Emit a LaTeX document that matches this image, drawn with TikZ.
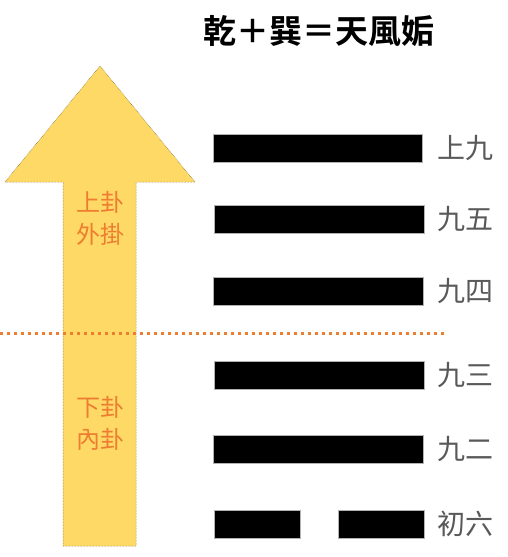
\documentclass[tikz,border=0pt]{standalone}
\usepackage{fontspec}
\newfontfamily\cjk{Noto Sans CJK TC}
\newfontfamily\cjkb{Noto Sans CJK TC Bold}
\definecolor{arrowfill}{HTML}{FFD966}
\definecolor{arrowline}{HTML}{6B5A20}
\definecolor{orangeT}{HTML}{ED7D31}
\definecolor{labelgray}{HTML}{595959}
\tikzset{
  yaobar/.style={fill=black, draw=gray!60, line width=0.4pt, inner sep=0pt, minimum height=28pt},
  yaolabel/.style={anchor=west, inner sep=0pt, text=labelgray, font=\cjk\fontsize{28}{30}\selectfont},
  sidelabel/.style={inner sep=0pt, text=orangeT, align=center, font=\cjk\fontsize{24}{32}\selectfont},
  divider/.style={orangeT, line width=3pt, dash pattern=on 3pt off 4pt}
}
\begin{document}
\begin{tikzpicture}[x=1pt,y=-1pt]
\useasboundingbox (0,0) rectangle (508,557);
% title
\node[inner sep=0pt, font=\cjkb\fontsize{33}{36}\selectfont] (title) at (319,31) {乾＋巽＝天風姤};
% arrow
\draw[fill=arrowfill, draw=arrowline, line width=0.5pt, densely dotted]
  (100,66) -- (195,182) -- (136,182) -- (136,546) -- (63,546) -- (63,182) -- (5,182) -- cycle;
\node[sidelabel] (upper) at (100,218) {上卦\\外掛};
\node[sidelabel] (lower) at (100,423) {下卦\\內卦};
% divider
\coordinate (dl) at (0,333);
\coordinate (dr) at (446,333);
\draw[divider] (dl) -- (dr);
% bars
\node[yaobar, minimum width=209pt, anchor=west] (b6) at (213,148) {};
\node[yaobar, minimum width=210pt, anchor=west] (b5) at (214,219) {};
\node[yaobar, minimum width=210pt, anchor=west] (b4) at (213,291) {};
\node[yaobar, minimum width=210pt, anchor=west] (b3) at (214,375) {};
\node[yaobar, minimum width=210pt, anchor=west] (b2) at (213,449) {};
\node[yaobar, minimum width=86pt, anchor=west] (b1a) at (214,524) {};
\node[yaobar, minimum width=86pt, anchor=west] (b1b) at (338,524) {};
% labels
\node[yaolabel] (l6) at (437,148) {上九};
\node[yaolabel] (l5) at (437,219) {九五};
\node[yaolabel] (l4) at (437,291) {九四};
\node[yaolabel] (l3) at (437,375) {九三};
\node[yaolabel] (l2) at (437,449) {九二};
\node[yaolabel] (l1) at (437,524) {初六};
\end{tikzpicture}
\end{document}
